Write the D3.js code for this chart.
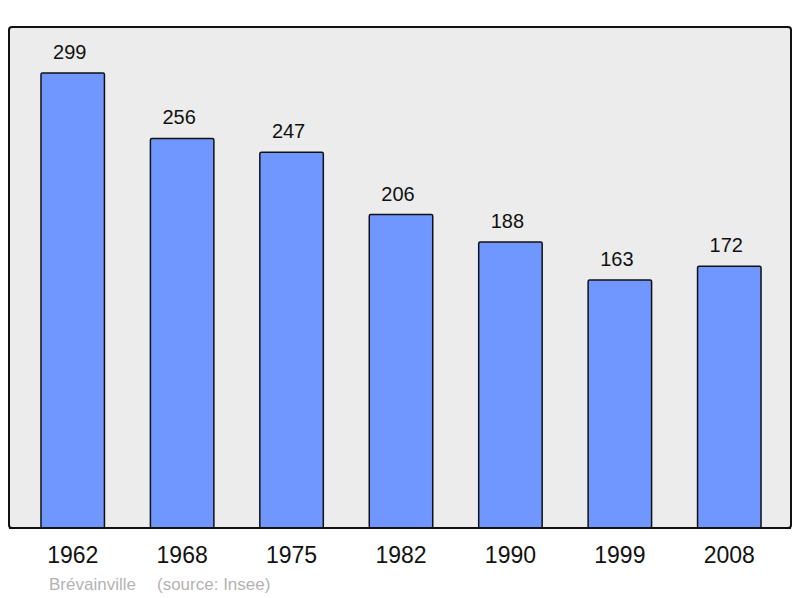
<!DOCTYPE html>
<html>
<head>
<meta charset="utf-8">
<script src="https://cdn.jsdelivr.net/npm/d3@7"></script>
<style>
  body { margin: 0; background: #fff; }
  text { font-family: "Liberation Sans", Arial, sans-serif; }
</style>
</head>
<body>
<script>
// Datos
const years = ["1962", "1968", "1975", "1982", "1990", "1999", "2008"];
const population = [299, 256, 247, 206, 188, 163, 172];
const commune = "Brévainville";
const source = "(source: Insee)";

const width = 800, height = 598;
const frame = { left: 9, top: 27, right: 791, bottom: 528 };

const svg = d3.select("body").append("svg")
    .attr("width", width)
    .attr("height", height);

// Fondo del gráfico
svg.append("rect")
    .attr("x", frame.left)
    .attr("y", frame.top)
    .attr("width", frame.right - frame.left)
    .attr("height", frame.bottom - frame.top)
    .attr("rx", 3)
    .attr("fill", "#ececec")
    .attr("stroke", "#111")
    .attr("stroke-width", 2);

// Escalas
const x = d3.scaleBand()
    .domain(years)
    .range([18, 784])
    .paddingInner(0.42)
    .paddingOuter(0.21);

const y = d3.scaleLinear()
    .domain([0, 299])
    .range([frame.bottom, 73]);

const data = years.map((yr, i) => ({ year: yr, value: population[i] }));

// Barras
svg.selectAll(".bar")
    .data(data)
    .enter().append("rect")
    .attr("class", "bar")
    .attr("x", d => x(d.year))
    .attr("y", d => y(d.value))
    .attr("width", x.bandwidth())
    .attr("height", d => frame.bottom - y(d.value))
    .attr("rx", 1.5)
    .attr("fill", "#7097ff")
    .attr("stroke", "#111")
    .attr("stroke-width", 1.5);

// Redibujar el borde inferior por encima de las barras
svg.append("line")
    .attr("x1", frame.left)
    .attr("x2", frame.right)
    .attr("y1", frame.bottom)
    .attr("y2", frame.bottom)
    .attr("stroke", "#111")
    .attr("stroke-width", 2);

// Etiquetas de valores
svg.selectAll(".val")
    .data(data)
    .enter().append("text")
    .attr("class", "val")
    .attr("x", d => x(d.year) + x.bandwidth() / 2 - 3)
    .attr("y", d => y(d.value) - 14)
    .attr("text-anchor", "middle")
    .attr("font-size", "20px")
    .attr("fill", "#111")
    .text(d => d.value);

// Eje X (años)
const xAxis = svg.append("g")
    .attr("transform", "translate(0," + frame.bottom + ")")
    .call(d3.axisBottom(x).tickSize(0).tickPadding(19));
xAxis.select(".domain").remove();
xAxis.selectAll("text")
    .attr("font-size", "23px")
    .attr("font-family", "Liberation Sans, Arial, sans-serif")
    .attr("fill", "#111");

// Pie
svg.append("text")
    .attr("x", 49)
    .attr("y", 590)
    .attr("font-size", "17px")
    .attr("fill", "#b3b3b3")
    .text(commune);

svg.append("text")
    .attr("x", 157)
    .attr("y", 590)
    .attr("font-size", "17px")
    .attr("fill", "#b3b3b3")
    .text(source);
</script>
</body>
</html>
